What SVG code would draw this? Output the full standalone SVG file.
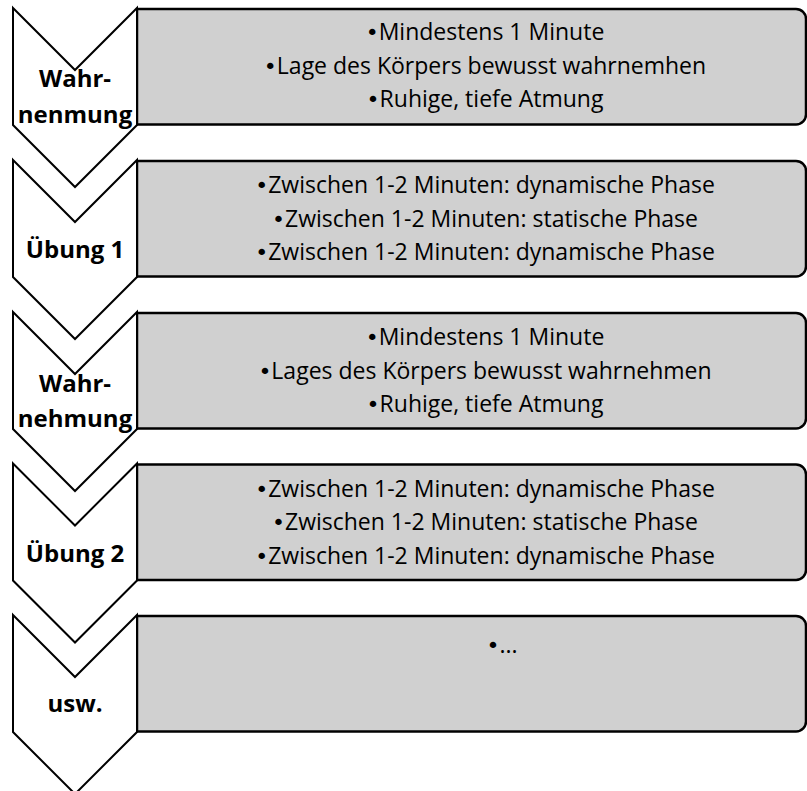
<svg xmlns="http://www.w3.org/2000/svg" width="807" height="791" viewBox="0 0 807 791">
  <defs>
    <style>
      .box { fill: #d0d0d0; stroke: #000; stroke-width: 2.5; stroke-linejoin: round; }
      .chev { fill: #fff; stroke: #000; stroke-width: 2; stroke-linejoin: miter; }
      .item { font-family: "Open Sans", "Liberation Sans", sans-serif; font-size: 23px; fill: #000; text-anchor: middle; }
      .b { font-family: "DejaVu Sans", sans-serif; font-size: 22px; }
      .label { font-family: "Open Sans", "Liberation Sans", sans-serif; font-size: 24px; font-weight: bold; fill: #000; text-anchor: middle; }
    </style>
  </defs>
  <rect width="807" height="791" fill="#fff"/>

  <!-- step 1 -->
  <g id="step1" transform="translate(0,8)">
    <path class="box" d="M137,1 H796 A10,10 0 0 1 806,11 V106 A10,10 0 0 1 796,116.5 H137 Z"/>
    <path class="chev" d="M13,0 L75,62 L137,0 V117 L75,179 L13,117 Z"/>
    <text class="label" x="75" y="79">Wahr-</text>
    <text class="label" x="75" y="114.5">nenmung</text>
    <text class="item" x="485" y="32"><tspan class="b">•</tspan>Mindestens 1 Minute</text>
    <text class="item" x="485" y="65.5"><tspan class="b">•</tspan>Lage des Körpers bewusst wahrnemhen</text>
    <text class="item" x="485" y="99"><tspan class="b">•</tspan>Ruhige, tiefe Atmung</text>
  </g>

  <!-- step 2 -->
  <g id="step2" transform="translate(0,160)">
    <path class="box" d="M137,1 H796 A10,10 0 0 1 806,11 V106 A10,10 0 0 1 796,116.5 H137 Z"/>
    <path class="chev" d="M13,0 L75,62 L137,0 V117 L75,179 L13,117 Z"/>
    <text class="label" x="75" y="98">Übung 1</text>
    <text class="item" x="485" y="33"><tspan class="b">•</tspan>Zwischen 1-2 Minuten: dynamische Phase</text>
    <text class="item" x="485" y="66.5"><tspan class="b">•</tspan>Zwischen 1-2 Minuten: statische Phase</text>
    <text class="item" x="485" y="100"><tspan class="b">•</tspan>Zwischen 1-2 Minuten: dynamische Phase</text>
  </g>

  <!-- step 3 -->
  <g id="step3" transform="translate(0,312)">
    <path class="box" d="M137,1 H796 A10,10 0 0 1 806,11 V106 A10,10 0 0 1 796,116.5 H137 Z"/>
    <path class="chev" d="M13,0 L75,62 L137,0 V117 L75,179 L13,117 Z"/>
    <text class="label" x="75" y="80">Wahr-</text>
    <text class="label" x="75" y="115">nehmung</text>
    <text class="item" x="485" y="33"><tspan class="b">•</tspan>Mindestens 1 Minute</text>
    <text class="item" x="485" y="66.5"><tspan class="b">•</tspan>Lages des Körpers bewusst wahrnehmen</text>
    <text class="item" x="485" y="100"><tspan class="b">•</tspan>Ruhige, tiefe Atmung</text>
  </g>

  <!-- step 4 -->
  <g id="step4" transform="translate(0,463.5)">
    <path class="box" d="M137,1 H796 A10,10 0 0 1 806,11 V106 A10,10 0 0 1 796,116.5 H137 Z"/>
    <path class="chev" d="M13,0 L75,62 L137,0 V117 L75,179 L13,117 Z"/>
    <text class="label" x="75" y="98">Übung 2</text>
    <text class="item" x="485" y="33"><tspan class="b">•</tspan>Zwischen 1-2 Minuten: dynamische Phase</text>
    <text class="item" x="485" y="66.5"><tspan class="b">•</tspan>Zwischen 1-2 Minuten: statische Phase</text>
    <text class="item" x="485" y="100"><tspan class="b">•</tspan>Zwischen 1-2 Minuten: dynamische Phase</text>
  </g>

  <!-- step 5 -->
  <g id="step5" transform="translate(0,615)">
    <path class="box" d="M137,1 H796 A10,10 0 0 1 806,11 V106 A10,10 0 0 1 796,116.5 H137 Z"/>
    <path class="chev" d="M13,0 L75,62 L137,0 V117 L75,179 L13,117 Z"/>
    <text class="label" x="75" y="97">usw.</text>
    <text class="item" x="502" y="38"><tspan class="b">•</tspan>...</text>
  </g>

  <g id="connectors"/>
</svg>
